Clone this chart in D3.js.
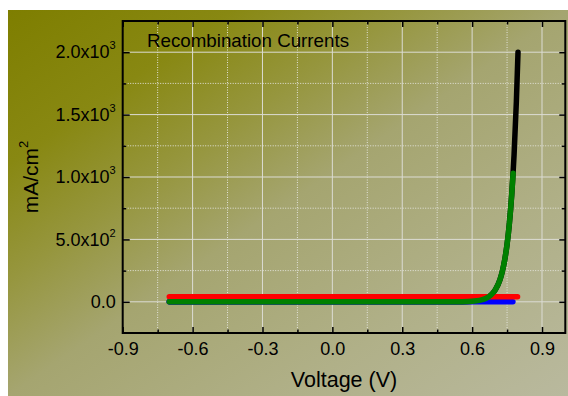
<!DOCTYPE html>
<html lang="en">
<head>
<meta charset="UTF-8">
<title>Recombination Currents</title>
<script src="https://d3js.org/d3.v7.min.js"></script>
<style>
  body { margin: 0; background: #ffffff; }
  svg text { font-family: "Liberation Sans", Arial, sans-serif; fill: #000; }
</style>
</head>
<body>
<div id="viz"></div>
<script>
// values (V in volts, J in mA/cm^2)
var blackV = [-0.7, -0.5, -0.3, -0.1, 0.1, 0.3, 0.5, 0.55, 0.6, 0.62, 0.64, 0.66, 0.68, 0.7, 0.72, 0.73, 0.74, 0.75, 0.76, 0.77, 0.78, 0.79, 0.797];
var blackJ = [0, 0, 0, 0, 0, 0, 0, 1, 4, 8, 15, 28, 52, 97, 180, 246, 337, 460, 630, 860, 1176, 1607, 2000];
var greenV = [-0.7, -0.5, -0.3, -0.1, 0.1, 0.3, 0.5, 0.55, 0.6, 0.62, 0.64, 0.66, 0.68, 0.7, 0.72, 0.73, 0.74, 0.75, 0.76, 0.77, 0.776];
var greenJ = [0, 0, 0, 0, 0, 0, 0, 1, 4, 8, 15, 28, 52, 97, 180, 246, 337, 460, 630, 860, 1030];
var blueV = [-0.7, -0.3, 0.1, 0.5, 0.7, 0.775];
var blueJ = [0, 0, 0, 0, 0, 0];
var redV = [-0.7, -0.3, 0.1, 0.5, 0.795];
var redJ = [40, 40, 40, 40, 40];

var xTicks = [-0.9, -0.6, -0.3, 0.0, 0.3, 0.6, 0.9];
var xMinor = [-0.75, -0.45, -0.15, 0.15, 0.45, 0.75];
var yTicks = [0, 500, 1000, 1500, 2000];
var yMinor = [250, 750, 1250, 1750];
var yMant = ["0.0", "5.0x10", "1.0x10", "1.5x10", "2.0x10"];
var yExp = ["", "2", "3", "3", "3"];

var W = 568, H = 396;
var margin = {top: 21, right: 2.7, bottom: 63, left: 122.7};

var svg = d3.select("#viz").append("svg")
    .attr("width", W)
    .attr("height", H);

// background gradient
var grad = svg.append("defs").append("linearGradient")
    .attr("id", "bg")
    .attr("x1", 0).attr("y1", 0).attr("x2", 1).attr("y2", 1);
[[0, "#7e7e00"], [0.2, "#888812"], [0.35, "#96963e"], [0.5, "#a5a570"], [0.75, "#b0b088"], [1, "#b9b99e"]]
  .forEach(function(s) {
    grad.append("stop").attr("offset", s[0]).attr("stop-color", s[1]);
  });

svg.append("rect")
    .attr("x", 8).attr("y", 10)
    .attr("width", W - 8).attr("height", H - 10)
    .attr("fill", "url(#bg)");

var x = d3.scaleLinear().domain([-0.9, 1.0]).range([margin.left, W - margin.right]);
var y = d3.scaleLinear().domain([-250, 2250]).range([H - margin.bottom, margin.top]);

// grid
var grid = svg.append("g");
grid.selectAll(".gx").data(xTicks.slice(1)).enter().append("line")
    .attr("x1", d => x(d)).attr("x2", d => x(d))
    .attr("y1", y(-250)).attr("y2", y(2250))
    .attr("stroke", "#dcdcd4").attr("stroke-width", 1);
grid.selectAll(".gxm").data(xMinor).enter().append("line")
    .attr("x1", d => x(d)).attr("x2", d => x(d))
    .attr("y1", y(-250)).attr("y2", y(2250))
    .attr("stroke", "#e4e4dc").attr("stroke-width", 1)
    .attr("stroke-dasharray", "1,1.5");
grid.selectAll(".gy").data(yTicks).enter().append("line")
    .attr("x1", x(-0.9)).attr("x2", x(1.0))
    .attr("y1", d => y(d)).attr("y2", d => y(d))
    .attr("stroke", "#dcdcd4").attr("stroke-width", 1);
grid.selectAll(".gym").data(yMinor).enter().append("line")
    .attr("x1", x(-0.9)).attr("x2", x(1.0))
    .attr("y1", d => y(d)).attr("y2", d => y(d))
    .attr("stroke", "#e4e4dc").attr("stroke-width", 1)
    .attr("stroke-dasharray", "1,1.5");

// curves
var line = d3.line()
    .x(d => x(d[0]))
    .y(d => y(d[1]))
    .curve(d3.curveMonotoneX);

var series = [
  {v: blackV, j: blackJ, color: "#000000"},
  {v: blueV, j: blueJ, color: "#0000ff"},
  {v: redV, j: redJ, color: "#ff0000"},
  {v: greenV, j: greenJ, color: "#008000"}
];
series.forEach(function(s) {
  svg.append("path")
      .datum(d3.zip(s.v, s.j))
      .attr("d", line)
      .attr("fill", "none")
      .attr("stroke", s.color)
      .attr("stroke-width", 5.5)
      .attr("stroke-linecap", "round")
      .attr("stroke-linejoin", "round");
});

// axes
function styleAxis(g) {
  g.attr("font-family", null).attr("font-size", 18);
  g.select(".domain").remove();
  g.selectAll(".tick line").attr("stroke-width", 1.5);
}

svg.append("g")
    .attr("transform", "translate(0," + y(-250) + ")")
    .call(d3.axisBottom(x).tickValues(xTicks).tickSizeInner(-6).tickSizeOuter(0).tickPadding(9)
      .tickFormat(d => d3.format(".1f")(d).replace("−", "-")))
    .call(styleAxis);
svg.append("g")
    .attr("transform", "translate(0," + y(-250) + ")")
    .call(d3.axisBottom(x).tickValues(xMinor).tickSizeInner(-3.5).tickSizeOuter(0).tickFormat(""))
    .call(styleAxis);
svg.append("g")
    .attr("transform", "translate(0," + y(2250) + ")")
    .call(d3.axisTop(x).tickValues(xTicks).tickSizeInner(-6).tickSizeOuter(0).tickFormat(""))
    .call(styleAxis);
svg.append("g")
    .attr("transform", "translate(0," + y(2250) + ")")
    .call(d3.axisTop(x).tickValues(xMinor).tickSizeInner(-3.5).tickSizeOuter(0).tickFormat(""))
    .call(styleAxis);

var yAxis = svg.append("g")
    .attr("transform", "translate(" + x(-0.9) + ",0)")
    .call(d3.axisLeft(y).tickValues(yTicks).tickSizeInner(-7).tickSizeOuter(0).tickPadding(7))
    .call(styleAxis);
yAxis.selectAll(".tick text").each(function(d) {
  var i = yTicks.indexOf(d);
  var t = d3.select(this).text(null);
  t.append("tspan").text(yMant[i]);
  if (yExp[i]) t.append("tspan").attr("dy", -9).attr("font-size", 11).text(yExp[i]);
});
svg.append("g")
    .attr("transform", "translate(" + x(-0.9) + ",0)")
    .call(d3.axisLeft(y).tickValues(yMinor).tickSizeInner(-3.5).tickSizeOuter(0).tickFormat(""))
    .call(styleAxis);
svg.append("g")
    .attr("transform", "translate(" + x(1.0) + ",0)")
    .call(d3.axisRight(y).tickValues(yTicks).tickSizeInner(-6).tickSizeOuter(0).tickFormat(""))
    .call(styleAxis);
svg.append("g")
    .attr("transform", "translate(" + x(1.0) + ",0)")
    .call(d3.axisRight(y).tickValues(yMinor).tickSizeInner(-3.5).tickSizeOuter(0).tickFormat(""))
    .call(styleAxis);

// frame
svg.append("rect")
    .attr("x", x(-0.9)).attr("y", y(2250))
    .attr("width", x(1.0) - x(-0.9)).attr("height", y(-250) - y(2250))
    .attr("fill", "none").attr("stroke", "#000").attr("stroke-width", 2);

// labels
svg.append("text")
    .attr("x", 147).attr("y", 47)
    .attr("font-size", 18.5)
    .attr("textLength", 202).attr("lengthAdjust", "spacingAndGlyphs")
    .text("Recombination Currents");

svg.append("text")
    .attr("x", (x(-0.9) + x(1.0)) / 2).attr("y", 387)
    .attr("text-anchor", "middle")
    .attr("font-size", 21.5)
    .text("Voltage (V)");

var yl = svg.append("text")
    .attr("transform", "translate(38," + ((y(-250) + y(2250)) / 2) + ") rotate(-90)")
    .attr("text-anchor", "middle")
    .attr("font-size", 21);
yl.append("tspan").text("mA/cm");
yl.append("tspan").attr("dy", -10).attr("font-size", 13).text("2");
</script>
</body>
</html>
